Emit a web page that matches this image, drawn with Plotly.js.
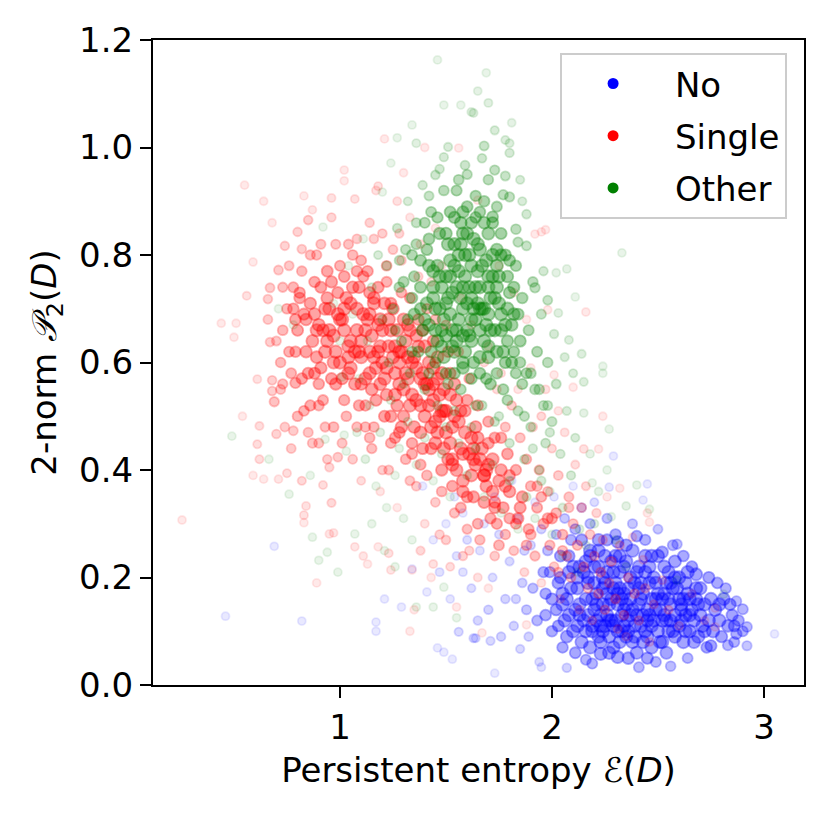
<!DOCTYPE html>
<html>
<head>
<meta charset="utf-8">
<script src="https://cdn.plot.ly/plotly-3.0.1.min.js"></script>
<style>html,body{margin:0;padding:0;background:#fff;}</style>
</head>
<body>
<div id="chart" style="width:829px;height:820px;"></div>
<script>
// ---- Data ----
const seriesNames = ['No', 'Single', 'Other'];

const noX = [
0.46,0.69,0.82,1.17,1.17,1.21,1.29,1.39,1.46,1.49,
1.53,1.41,1.34,1.54,1.50,1.56,1.64,2.45,2.43,2.29,
2.27,2.52,2.59,2.68,2.78,2.87,2.90,2.92,2.87,2.92,
3.05,2.83,2.75,2.64,2.56,2.49,2.41,2.31,2.23,2.16,
2.07,1.95,1.94,1.85,1.73,1.63,1.71,2.40,2.31,
1.58,1.62,1.66,1.70,1.72,1.75,1.78,1.80,1.82,1.84,
1.86,1.88,1.90,1.68,1.60,1.55,1.52,1.65,1.76,1.73,
1.81,1.92,1.95,1.89,1.93,1.97,1.99,1.47,1.44,1.58,
2.00,2.02,2.03,2.04,2.05,2.06,2.07,2.08,2.09,2.10,
2.11,2.12,2.13,2.14,2.15,2.16,2.17,2.18,2.19,2.20,
2.21,2.22,2.23,2.24,2.25,2.26,2.27,2.28,2.29,2.30,
2.31,2.32,2.33,2.34,2.35,2.36,2.37,2.38,2.39,2.40,
2.41,2.42,2.43,2.44,2.45,2.46,2.47,2.48,2.49,2.50,
2.51,2.52,2.53,2.54,2.55,2.56,2.57,2.58,2.59,2.60,
2.61,2.62,2.63,2.64,2.65,2.66,2.67,2.68,2.69,2.70,
2.71,2.72,2.73,2.74,2.76,2.77,2.79,2.80,2.81,2.83,
2.85,2.86,2.88,2.90,2.82,2.74,2.70,2.66,2.62,2.57,
2.50,2.47,2.44,2.38,2.35,2.30,2.26,2.22,2.18,2.14,
2.11,2.06,2.02,1.98,2.01,2.10,2.20,2.25,2.32,2.37,
2.41,2.46,2.53,2.58,2.63,2.23,2.27,2.29,2.33,2.35,
2.31,2.26,2.21,2.17,2.19,2.24,2.28,2.38,2.42,2.45,
2.36,2.32,2.27,2.22,2.16,2.12,2.08,2.13,2.39,2.44,
2.49,2.52,2.55,2.47,2.40,2.58,2.61,2.34,2.30,2.26,
2.20,2.15,2.10,2.05,2.00,1.97,2.03,2.07,2.11,2.18,
2.24,2.34,2.43,2.50,2.56,2.60,2.65,2.69,2.75,2.79,
2.84,2.86,2.72,2.67,2.63,2.54,2.45,2.36,2.29,2.19,
2.05,2.09,2.13,2.17,2.21,2.25,2.29,2.33,2.37,2.41,
2.45,2.49,2.53,2.57,2.61,2.65,2.04,2.08,2.12,2.16,
2.20,2.24,2.28,2.32,2.36,2.40,2.44,2.48,2.52,2.56,
2.60,2.64,2.68,2.14,2.18,2.22,2.26,2.30,2.34,2.38,
2.42,2.46,2.50,2.54,2.58,2.62,2.19,2.23,2.27,2.31,
2.35,2.39,2.43,2.47,2.51,2.55,1.96,1.91,1.87,1.83
];
const noY = [
0.128,0.258,0.119,0.117,0.100,0.160,0.145,0.370,0.069,0.061,
0.048,0.173,0.216,0.350,0.300,0.099,0.087,0.374,0.344,0.426,
0.368,0.247,0.262,0.206,0.190,0.156,0.141,0.108,0.095,0.073,
0.095,0.074,0.073,0.050,0.035,0.043,0.033,0.052,0.058,0.047,
0.032,0.033,0.043,0.067,0.022,0.087,0.082,0.277,0.266,
0.21,0.18,0.25,0.14,0.20,0.28,0.16,0.23,0.11,0.31,
0.19,0.14,0.26,0.30,0.27,0.24,0.16,0.12,0.09,0.35,
0.38,0.34,0.29,0.09,0.12,0.17,0.21,0.21,0.27,0.32,
0.10,0.14,0.19,0.24,0.07,0.12,0.16,0.21,0.27,0.10,
0.14,0.18,0.22,0.08,0.12,0.16,0.20,0.25,0.10,0.14,
0.17,0.22,0.11,0.15,0.19,0.13,0.09,0.16,0.21,0.12,
0.15,0.18,0.10,0.14,0.23,0.12,0.16,0.08,0.19,0.13,
0.15,0.11,0.17,0.21,0.09,0.13,0.16,0.12,0.19,0.10,
0.14,0.08,0.17,0.12,0.21,0.15,0.10,0.13,0.18,0.11,
0.15,0.08,0.13,0.17,0.10,0.14,0.12,0.16,0.09,0.13,
0.11,0.15,0.07,0.12,0.10,0.14,0.12,0.09,0.16,0.11,
0.13,0.08,0.12,0.10,0.18,0.20,0.18,0.22,0.24,0.26,
0.29,0.24,0.27,0.30,0.26,0.28,0.31,0.27,0.30,0.33,
0.29,0.31,0.28,0.25,0.35,0.37,0.34,0.24,0.21,0.20,
0.22,0.19,0.22,0.20,0.19,0.13,0.15,0.11,0.13,0.15,
0.17,0.17,0.12,0.13,0.16,0.18,0.12,0.14,0.16,0.14,
0.10,0.08,0.06,0.09,0.10,0.11,0.13,0.15,0.11,0.10,
0.14,0.12,0.16,0.07,0.06,0.09,0.12,0.17,0.19,0.21,
0.19,0.21,0.22,0.17,0.16,0.13,0.11,0.09,0.06,0.07,
0.10,0.11,0.13,0.17,0.12,0.16,0.13,0.15,0.16,0.15,
0.15,0.11,0.10,0.08,0.10,0.06,0.05,0.05,0.07,0.04,
0.15,0.18,0.13,0.19,0.15,0.11,0.18,0.16,0.13,0.18,
0.12,0.16,0.13,0.18,0.14,0.16,0.20,0.24,0.20,0.23,
0.22,0.20,0.23,0.24,0.18,0.21,0.24,0.20,0.16,0.19,
0.20,0.21,0.18,0.27,0.24,0.25,0.27,0.24,0.22,0.25,
0.19,0.22,0.24,0.19,0.23,0.16,0.11,0.08,0.12,0.10,
0.09,0.09,0.08,0.11,0.08,0.10,0.21,0.18,0.25,0.16
];

const singleX = [
0.55,0.64,0.68,0.59,0.56,0.44,0.51,0.50,0.66,1.02,
1.02,0.83,0.96,0.87,1.21,1.18,1.07,0.85,0.80,0.74,
0.82,0.71,0.67,0.66,0.67,1.30,1.40,1.56,0.255,0.61,
0.68,0.73,0.68,0.69,0.54,0.62,0.61,0.70,0.62,0.59,
0.64,0.71,0.75,0.82,0.79,0.78,0.83,0.84,0.83,0.83,
0.89,0.95,0.97,0.96,0.92,0.95,0.99,1.07,1.11,1.13,
1.18,1.23,1.24,1.33,1.34,1.44,1.55,1.35,1.95,1.92,
1.97,2.16,1.98,1.65,2.24,2.01,2.10,2.22,2.15,2.32,
2.45,2.46,2.77,2.77,2.46,2.31,1.67,1.88,2.52,2.38,
2.43,
0.75,0.78,0.80,0.82,0.84,0.86,0.88,0.89,0.90,0.91,
0.92,0.93,0.94,0.95,0.96,0.97,0.98,0.99,1.00,1.01,
1.02,1.03,1.04,1.05,1.06,1.07,1.08,1.09,1.10,1.11,
1.12,1.13,1.14,1.15,1.16,1.17,1.18,1.19,1.20,1.21,
1.22,1.23,1.24,1.25,1.26,1.27,1.28,1.29,1.30,1.31,
1.32,1.33,1.34,1.35,1.36,1.37,1.38,1.39,1.40,1.41,
1.42,1.43,1.44,1.45,1.46,1.47,1.48,1.49,1.50,1.51,
1.52,1.53,1.54,1.55,1.56,1.57,1.58,1.59,1.60,1.61,
1.62,1.63,1.64,1.65,1.66,1.67,1.68,1.69,1.70,1.71,
1.72,1.73,1.74,1.75,1.76,1.77,1.78,1.79,1.80,1.81,
1.82,1.83,1.84,1.85,1.86,1.87,1.88,1.89,1.90,1.91,
1.92,1.93,1.94,1.95,1.96,1.97,1.98,1.99,2.00,2.01,
2.02,2.03,2.04,2.05,2.06,2.07,2.08,2.09,2.10,2.11,
2.12,2.13,2.14,2.15,2.16,2.17,2.18,2.19,2.20,2.21,
2.22,2.23,2.24,2.25,2.26,2.27,2.28,2.30,2.32,2.34,
2.36,2.39,2.41,2.44,2.48,2.55,2.60,2.66,2.72,2.35,
0.98,1.02,1.05,1.08,1.10,1.12,1.14,1.16,1.18,1.20,
1.22,1.24,1.26,1.28,1.30,1.32,1.34,1.36,1.38,1.40,
1.42,1.44,1.46,1.48,1.50,1.52,1.54,1.56,1.58,1.60,
1.62,1.64,1.66,1.68,1.70,1.72,1.74,1.76,1.78,1.80,
1.03,1.07,1.11,1.15,1.19,1.23,1.27,1.31,1.35,1.39,
1.43,1.47,1.51,1.55,1.59,0.87,0.91,0.94,0.97,1.00,
0.79,0.77,0.73,0.76,0.72,0.86,0.90,0.94,1.01,1.06,
1.10,1.15,1.19,1.23,1.27,1.31,1.36,1.40,1.45,1.50,
1.08,1.14,1.25,1.33,1.38,1.45,1.17,1.27,1.48,1.57,
1.62,1.70,1.76,1.84,1.90,1.95,2.03,1.88,1.82,1.75,
1.12,1.16,1.21,1.26,1.29,1.33,1.37,1.41,1.45,1.49,
1.53,1.57,1.61,1.65,1.70,1.58,1.52,1.47,1.43,1.38,
0.88,0.92,0.96,1.00,1.04,1.08,1.12,1.16,1.20,1.24,
1.28,1.32,1.36,1.40,1.44,1.48,1.52,0.90,0.94,0.98,
1.02,1.06,1.10,1.14,1.18,1.22,1.26,1.30,1.34,1.38,
1.42,1.46,1.50,1.54,0.85,0.89,0.93,0.97,1.01,1.05,
1.09,1.13,1.17,1.21,1.25,1.29,1.33,1.37,1.41,1.45,
1.49,1.53,1.57,1.61,1.65,1.69,1.73,0.83,0.81,0.79,
0.99,1.04,1.09,1.14,1.19,1.24,1.29,1.34,1.39,1.44,
1.28,1.33,1.38,1.43,1.48,1.53,1.58,1.63,1.68,1.73,
0.72,0.76,0.80,0.84,0.88,0.74,0.78,0.82,0.86,0.90,
0.77,0.81,0.85,0.89,0.93,0.70,0.73,0.87,0.91,0.95,
1.60,1.65,1.70,1.75,1.80,1.85,1.90,1.95,2.00,2.05,
1.63,1.68,1.73,1.78,1.83,1.88,1.93,1.98,2.03,2.08,
1.04,1.10,1.16,1.22,1.28,0.96,1.02,1.08,1.14,1.20
];
const singleY = [
0.930,0.900,0.860,0.787,0.724,0.673,0.673,0.647,0.680,0.958,
0.938,0.910,0.906,0.884,1.016,0.928,0.904,0.865,0.843,0.817,
0.811,0.772,0.739,0.718,0.638,0.953,1.000,0.999,0.307,0.569,
0.567,0.560,0.547,0.527,0.500,0.482,0.448,0.467,0.420,0.390,
0.383,0.383,0.394,0.380,0.562,0.473,0.510,0.333,0.316,0.302,
0.190,0.281,0.283,0.339,0.372,0.405,0.424,0.257,0.240,0.225,
0.257,0.245,0.214,0.100,0.214,0.225,0.145,0.140,0.843,0.839,
0.847,0.694,0.698,0.902,0.500,0.577,0.554,0.439,0.439,0.366,
0.320,0.303,0.143,0.108,0.080,0.104,0.097,0.112,0.195,0.275,
0.233,
0.70,0.74,0.66,0.77,0.62,0.71,0.58,0.80,0.67,0.74,
0.53,0.62,0.77,0.70,0.57,0.65,0.82,0.73,0.60,0.68,
0.76,0.50,0.63,0.71,0.80,0.56,0.66,0.74,0.61,0.69,
0.48,0.77,0.58,0.65,0.72,0.53,0.62,0.68,0.84,0.57,
0.75,0.63,0.45,0.70,0.54,0.66,0.60,0.79,0.50,0.64,
0.57,0.72,0.43,0.61,0.53,0.68,0.47,0.58,0.63,0.39,
0.52,0.75,0.56,0.45,0.61,0.50,0.36,0.55,0.67,0.42,
0.58,0.48,0.32,0.53,0.62,0.44,0.38,0.51,0.29,0.57,
0.46,0.35,0.41,0.52,0.27,0.44,0.60,0.37,0.49,0.31,
0.42,0.24,0.55,0.38,0.46,0.33,0.28,0.43,0.36,0.52,
0.25,0.40,0.31,0.46,0.35,0.21,0.42,0.29,0.37,0.48,
0.24,0.33,0.40,0.19,0.30,0.55,0.36,0.26,0.44,0.22,
0.32,0.39,0.16,0.28,0.47,0.24,0.35,0.20,0.30,0.41,
0.26,0.14,0.33,0.22,0.37,0.18,0.28,0.12,0.24,0.32,
0.17,0.21,0.27,0.14,0.35,0.19,0.23,0.16,0.26,0.13,
0.20,0.17,0.12,0.18,0.15,0.14,0.11,0.17,0.12,0.09,
0.62,0.66,0.59,0.70,0.64,0.57,0.69,0.61,0.74,0.66,
0.59,0.71,0.63,0.56,0.68,0.61,0.54,0.65,0.57,0.50,
0.60,0.53,0.47,0.58,0.51,0.45,0.56,0.49,0.43,0.53,
0.39,0.48,0.42,0.34,0.45,0.36,0.30,0.40,0.48,0.31,
0.72,0.62,0.76,0.55,0.63,0.68,0.52,0.58,0.48,0.66,
0.44,0.54,0.62,0.40,0.47,0.64,0.59,0.72,0.48,0.78,
0.62,0.58,0.66,0.78,0.60,0.52,0.45,0.42,0.45,0.42,
0.38,0.44,0.36,0.40,0.33,0.42,0.37,0.30,0.34,0.27,
0.83,0.86,0.81,0.87,0.82,0.85,0.92,0.90,0.78,0.72,
0.67,0.63,0.58,0.55,0.59,0.50,0.51,0.68,0.73,0.78,
0.52,0.48,0.50,0.46,0.73,0.66,0.76,0.70,0.68,0.44,
0.37,0.33,0.25,0.20,0.18,0.24,0.22,0.28,0.20,0.25,
0.69,0.66,0.75,0.68,0.61,0.77,0.66,0.71,0.60,0.66,
0.62,0.67,0.59,0.56,0.64,0.51,0.54,0.56,0.64,0.56,
0.53,0.74,0.56,0.62,0.67,0.54,0.58,0.55,0.60,0.52,
0.55,0.57,0.47,0.50,0.58,0.61,0.70,0.60,0.57,0.64,
0.62,0.68,0.59,0.71,0.61,0.48,0.52,0.63,0.56,0.49,
0.51,0.41,0.51,0.43,0.46,0.40,0.46,0.69,0.72,0.68,
0.69,0.58,0.52,0.73,0.56,0.50,0.62,0.45,0.44,0.59,
0.47,0.38,0.41,0.48,0.40,0.42,0.36,0.42,0.39,0.34,
0.55,0.62,0.50,0.68,0.75,0.48,0.70,0.57,0.80,0.52,
0.44,0.73,0.47,0.66,0.48,0.64,0.74,0.45,0.82,0.66,
0.35,0.30,0.41,0.26,0.39,0.33,0.28,0.35,0.31,0.25,
0.44,0.39,0.33,0.37,0.30,0.26,0.37,0.31,0.21,0.33,
0.82,0.79,0.83,0.78,0.84,0.87,0.70,0.48,0.46,0.40
];

const otherX = [
0.49,0.665,0.76,0.86,0.87,0.90,0.94,0.99,1.07,0.93,
1.01,1.02,1.03,1.36,1.44,1.55,1.49,1.46,1.49,1.57,
1.65,1.62,1.34,1.27,1.24,1.36,1.20,0.92,0.71,0.78,
1.51,1.49,1.59,1.45,1.69,1.70,1.63,1.81,1.73,1.78,
1.80,1.80,1.68,1.67,1.73,1.78,1.85,1.77,1.80,1.86,
1.88,1.72,1.83,1.84,1.88,2.07,2.11,2.02,2.33,1.96,
2.17,1.92,1.98,2.03,2.01,2.08,2.14,2.24,2.24,2.15,
2.27,2.15,2.40,2.35,2.46,2.28,2.59,2.81,2.19,
1.22,1.25,1.27,1.29,1.30,1.32,1.33,1.34,1.35,1.36,
1.37,1.38,1.39,1.40,1.41,1.42,1.43,1.44,1.45,1.46,
1.47,1.48,1.49,1.50,1.51,1.52,1.53,1.54,1.55,1.56,
1.57,1.58,1.59,1.60,1.61,1.62,1.63,1.64,1.65,1.66,
1.67,1.68,1.69,1.70,1.71,1.72,1.73,1.74,1.75,1.76,
1.77,1.78,1.79,1.80,1.81,1.82,1.83,1.84,1.85,1.86,
1.87,1.88,1.89,1.90,1.91,1.92,1.93,1.94,1.95,1.96,
1.97,1.98,1.99,2.00,2.02,2.04,2.05,2.07,2.09,2.11,
2.13,2.06,2.10,1.48,1.52,1.56,1.60,1.64,1.53,1.58,
1.62,1.66,1.50,1.55,1.59,1.44,1.47,1.51,1.57,1.61,
1.65,1.69,1.70,1.73,1.76,1.79,1.74,1.68,1.63,1.57,
1.54,1.49,1.45,1.41,1.38,1.35,1.31,1.28,1.26,1.23,
1.20,1.18,1.15,1.13,1.11,1.09,1.06,1.04,1.00,0.97,
1.14,1.19,1.24,1.28,1.32,1.36,1.40,1.44,1.48,1.52,
1.56,1.60,1.64,1.68,1.72,1.76,1.80,1.84,1.88,1.92,
1.62,1.67,1.71,1.75,1.79,1.83,1.87,1.91,1.95,1.99,
1.55,1.60,1.64,1.70,1.74,1.47,1.42,1.52,1.58,1.66,
1.30,1.34,1.42,1.46,1.50,1.54,1.58,1.62,1.66,1.70,
1.08,1.12,1.17,1.22,1.26,1.30,1.34,1.15,1.21,1.26,
2.18,2.22,2.26,2.20,2.16,2.12,2.30,2.35,2.05,2.00,
1.40,1.44,1.48,1.52,1.56,1.60,1.64,1.68,1.72,1.76,
1.80,1.42,1.46,1.50,1.54,1.58,1.62,1.66,1.70,1.74,
1.78,1.82,1.39,1.43,1.47,1.51,1.55,1.59,1.63,1.67,
1.71,1.75,1.79,1.45,1.49,1.53,1.57,1.61,1.65,1.69,
1.73,1.77,1.81,1.85,1.50,1.54,1.58,1.62,1.66,1.70,
1.74,1.34,1.38,1.42,1.46,1.50,1.54,1.58,1.62,1.66,
1.70,1.74,1.78,1.82,1.86,1.90,1.94,1.98,1.36,1.32,
1.28,1.40,1.56,1.60,1.64,1.68,1.72,1.76,1.80,1.84
];
const otherY = [
0.463,0.420,0.355,0.390,0.275,0.232,0.247,0.210,0.281,0.457,
0.573,0.465,0.435,0.145,0.145,0.125,0.182,1.163,1.079,1.079,
1.105,1.066,1.042,1.018,0.971,1.008,0.917,0.852,0.700,0.670,
1.001,0.982,0.967,0.949,1.139,1.083,1.064,1.046,1.032,1.014,
1.008,0.990,1.003,0.980,0.958,0.947,0.940,0.912,0.908,0.900,
0.876,0.871,0.848,0.824,0.817,0.774,0.722,0.767,0.804,0.770,
0.880,0.739,0.716,0.692,0.653,0.642,0.616,0.593,0.580,0.564,
0.476,0.506,0.372,0.333,0.327,0.313,0.195,0.169,0.376,
0.78,0.70,0.85,0.64,0.75,0.90,0.58,0.80,0.69,0.86,
0.62,0.74,0.93,0.55,0.81,0.67,0.88,0.72,0.60,0.78,
0.84,0.66,0.92,0.71,0.56,0.79,0.63,0.87,0.74,0.68,
0.82,0.59,0.76,0.89,0.65,0.72,0.83,0.52,0.77,0.61,
0.70,0.86,0.57,0.74,0.66,0.80,0.49,0.62,0.71,0.84,
0.55,0.67,0.76,0.45,0.60,0.69,0.78,0.51,0.64,0.72,
0.42,0.58,0.66,0.48,0.75,0.55,0.62,0.40,0.69,0.52,
0.45,0.60,0.36,0.49,0.56,0.43,0.33,0.51,0.39,0.46,
0.29,0.61,0.58,0.74,0.69,0.77,0.71,0.68,0.73,0.70,
0.78,0.74,0.65,0.64,0.62,0.77,0.70,0.82,0.86,0.80,
0.82,0.79,0.69,0.72,0.66,0.70,0.78,0.64,0.60,0.55,
0.58,0.61,0.66,0.71,0.79,0.76,0.81,0.74,0.66,0.60,
0.68,0.80,0.74,0.64,0.83,0.57,0.69,0.78,0.64,0.71,
0.52,0.47,0.53,0.44,0.49,0.41,0.46,0.38,0.43,0.35,
0.45,0.39,0.44,0.35,0.41,0.32,0.38,0.29,0.35,0.31,
0.48,0.52,0.56,0.50,0.53,0.58,0.50,0.44,0.38,0.47,
0.92,0.95,0.91,0.94,0.89,0.96,0.91,0.88,0.84,0.88,
0.56,0.62,0.58,0.52,0.48,0.51,0.65,0.57,0.58,0.61,
0.47,0.42,0.37,0.33,0.39,0.31,0.27,0.30,0.25,0.22,
0.43,0.36,0.40,0.30,0.26,0.21,0.27,0.22,0.24,0.28,
0.68,0.74,0.63,0.76,0.80,0.66,0.74,0.70,0.76,0.69,
0.73,0.83,0.87,0.84,0.82,0.88,0.86,0.81,0.84,0.81,
0.80,0.74,0.66,0.62,0.76,0.72,0.66,0.80,0.70,0.78,
0.72,0.76,0.64,0.70,0.68,0.66,0.72,0.74,0.71,0.67,
0.66,0.62,0.67,0.60,0.58,0.62,0.60,0.64,0.66,0.63,
0.58,0.72,0.70,0.78,0.64,0.76,0.78,0.74,0.68,0.70,
0.76,0.74,0.60,0.62,0.56,0.58,0.55,0.52,0.82,0.68,
0.79,0.86,0.94,0.84,0.87,0.90,0.86,0.80,0.79,0.69
];

const xTickVals = [1, 2, 3];
const xTickText = ['1', '2', '3'];
const yTickVals = [0, 0.2, 0.4, 0.6, 0.8, 1.0, 1.2];
const yTickText = ['0.0', '0.2', '0.4', '0.6', '0.8', '1.0', '1.2'];

// ---- Styling ----
const rgb = [[0,0,255],[255,0,0],[0,128,0]];
const baseAlpha = 0.12;
const FONT = 'DejaVu Sans, sans-serif';
const FS = 34;
const X_RANGE = [0.118, 3.189];
const Y_RANGE = [0, 1.2];

// The reference stacks many more translucent points in its dense areas than
// are listed here; points in crowded areas therefore get a stronger tint and
// a slightly larger disc so those areas read as continuous (style only).
function crowding(xs, ys) {
  const sx = 651 / (X_RANGE[1] - X_RANGE[0]);
  const sy = 645 / (Y_RANGE[1] - Y_RANGE[0]);
  const r2 = 38 * 38;
  return xs.map((x, i) => {
    let n = 0;
    for (let j = 0; j < xs.length; j++) {
      if (j === i) continue;
      const dx = (xs[j] - x) * sx, dy = (ys[j] - ys[i]) * sy;
      if (dx * dx + dy * dy < r2) n++;
    }
    return n;
  });
}

function cloud(xs, ys, i) {
  const c = rgb[i];
  const n = crowding(xs, ys);
  const cols = n.map(k => {
    const f = Math.max(1, Math.min(5.5, k / 5));
    const a = 1 - Math.pow(1 - baseAlpha, f);
    return `rgba(${c[0]},${c[1]},${c[2]},${a.toFixed(3)})`;
  });
  const sizes = n.map(k => 8 + Math.max(0, Math.min(4.5, (k - 6) * 0.15)));
  return {
    type: 'scatter', mode: 'markers', x: xs, y: ys,
    name: seriesNames[i], showlegend: false, hoverinfo: 'skip',
    marker: {size: sizes, color: cols, line: {color: cols, width: 1.8}}
  };
}
function legendEntry(i) {
  const c = rgb[i];
  return {
    type: 'scatter', mode: 'markers', x: [null], y: [null],
    name: '\u00a0' + seriesNames[i], legendgroup: 'g' + i, showlegend: true,
    marker: {size: 11, color: `rgb(${c[0]},${c[1]},${c[2]})`}
  };
}

const data = [
  cloud(noX, noY, 0), cloud(singleX, singleY, 1), cloud(otherX, otherY, 2),
  legendEntry(0), legendEntry(1), legendEntry(2)
];

const axisCommon = {
  showgrid: false, zeroline: false, showline: true, mirror: true,
  linecolor: 'black', linewidth: 2, ticks: 'outside', ticklen: 11,
  tickwidth: 2, tickcolor: 'black', tickfont: {family: FONT, size: FS, color: 'black'}
};

const layout = {
  width: 829, height: 820,
  margin: {l: 153, r: 25, t: 40, b: 135, pad: 0},
  paper_bgcolor: 'white', plot_bgcolor: 'white',
  font: {family: FONT, size: FS, color: 'black'},
  xaxis: Object.assign({}, axisCommon, {
    range: X_RANGE, tickmode: 'array', tickvals: xTickVals, ticktext: xTickText,
    title: {text: 'Persistent entropy <i>ℰ</i>(<i>D</i>)', font: {family: FONT, size: FS, color: 'black'}, standoff: 12}
  }),
  yaxis: Object.assign({}, axisCommon, {
    range: Y_RANGE, tickmode: 'array', tickvals: yTickVals, ticktext: yTickText,
    title: {text: '2-norm <i>𝒫</i><sub>2</sub>(<i>D</i>)', font: {family: FONT, size: FS, color: 'black'}, standoff: 12}
  }),
  legend: {
    x: 0.974, xanchor: 'right', y: 0.98, yanchor: 'top',
    bgcolor: 'white', bordercolor: '#cccccc', borderwidth: 2,
    font: {family: FONT, size: FS, color: 'black'},
    tracegroupgap: 5, itemwidth: 92
  },
  showlegend: true
};

Plotly.newPlot('chart', data, layout, {staticPlot: true, displayModeBar: false});
</script>
</body>
</html>
